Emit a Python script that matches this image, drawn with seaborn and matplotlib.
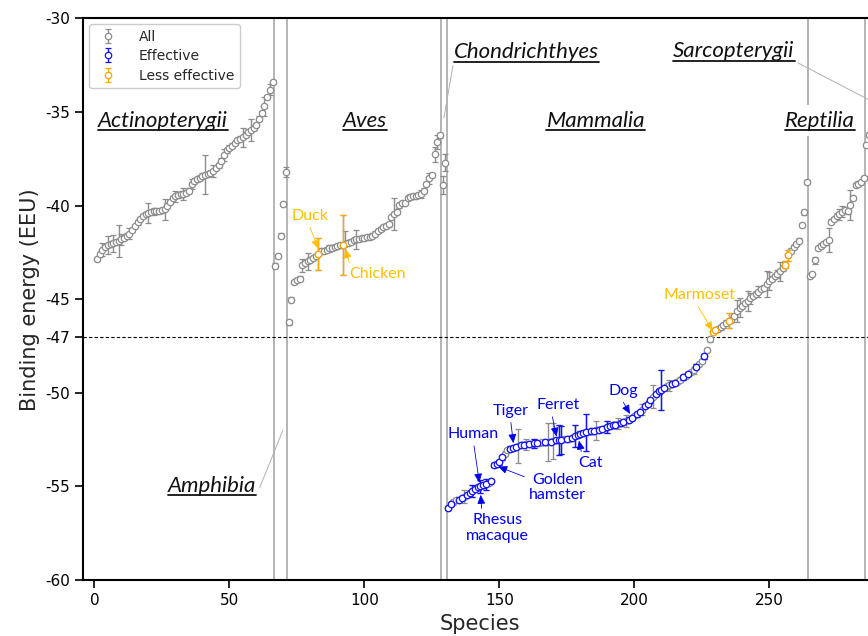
import numpy as np
import pandas as pd
import matplotlib
matplotlib.use("Agg")
import matplotlib.pyplot as plt
from matplotlib.lines import Line2D
from matplotlib.text import Text
import seaborn as sns

# Binding energy per species, sorted within each class
actinopterygii = [-42.85, -42.6, -42.35, -42.2, -42.1, -42.05, -42.0, -41.95, -41.9, -41.8,
                  -41.72, -41.6, -41.5, -41.3, -41.1, -40.9, -40.72, -40.55, -40.45, -40.4,
                  -40.35, -40.3, -40.3, -40.28, -40.25, -40.2, -40.0, -39.8, -39.6, -39.5,
                  -39.45, -39.4, -39.38, -39.3, -39.2, -38.85, -38.7, -38.6, -38.5, -38.4,
                  -38.35, -38.3, -38.25, -38.15, -38.0, -37.85, -37.6, -37.3, -37.05, -36.9,
                  -36.8, -36.65, -36.5, -36.42, -36.35, -36.2, -36.05, -35.95, -35.85, -35.7,
                  -35.35, -35.05, -34.7, -34.2, -33.8, -33.4]
amphibia = [-43.2, -42.7, -41.6, -39.9, -38.2]
aves = [-46.24, -45.02, -44.07, -43.98, -43.9, -43.18, -43.06, -42.97, -42.88, -42.8,
        -42.7, -42.58, -42.44, -42.4, -42.35, -42.28, -42.24, -42.2, -42.15, -42.12,
        -42.12, -42.05, -41.98, -41.92, -41.86, -41.8, -41.77, -41.74, -41.72, -41.7,
        -41.68, -41.6, -41.5, -41.35, -41.25, -41.15, -41.08, -41.0, -40.6, -40.45,
        -40.32, -39.98, -39.88, -39.85, -39.58, -39.52, -39.5, -39.48, -39.44, -39.38,
        -39.2, -38.85, -38.55, -38.35, -37.25, -36.6, -36.24]
chondrichthyes = [-38.9, -37.7]
mammalia = [-56.15, -55.95, -55.85, -55.75, -55.7, -55.62, -55.55, -55.45, -55.35, -55.25,
            -55.15, -55.05, -55.0, -54.95, -54.88, -54.8, -54.72, -53.85, -53.8, -53.72,
            -53.45, -53.25, -53.05, -52.98, -52.94, -52.88, -52.85, -52.8, -52.77, -52.75,
            -52.72, -52.71, -52.7, -52.68, -52.67, -52.65, -52.64, -52.62, -52.6, -52.58,
            -52.54, -52.52, -52.5, -52.49, -52.47, -52.45, -52.41, -52.32, -52.25, -52.18,
            -52.15, -52.11, -52.08, -52.06, -52.03, -52.0, -51.96, -51.92, -51.87, -51.82,
            -51.78, -51.74, -51.7, -51.64, -51.6, -51.55, -51.5, -51.43, -51.35, -51.25,
            -51.15, -51.05, -50.9, -50.7, -50.6, -50.4, -50.2, -50.05, -49.92, -49.85,
            -49.75, -49.65, -49.6, -49.52, -49.47, -49.4, -49.3, -49.18, -49.1, -49.0,
            -48.9, -48.8, -48.6, -48.45, -48.3, -48.05, -47.7, -47.15,
            -46.76, -46.67, -46.6, -46.5, -46.4, -46.25, -46.15, -46.1, -45.9, -45.62,
            -45.45, -45.36, -45.2, -45.09, -44.95, -44.83, -44.7, -44.6, -44.45, -44.38,
            -44.2, -44.03, -43.9, -43.77, -43.65, -43.5, -43.35, -43.15, -42.65, -42.4,
            -42.22, -42.05, -41.87, -41.03, -40.36, -38.73]
reptilia = [-43.76, -43.64, -42.93, -42.27, -42.13, -42.06, -41.96, -41.84, -40.85, -40.71,
            -40.53, -40.46, -40.32, -40.23, -40.3, -39.97, -39.58, -38.91, -38.82, -38.73,
            -38.52]
sarcopterygii = [-36.76, -36.2]

class_names = ["Actinopterygii", "Amphibia", "Aves", "Chondrichthyes",
               "Mammalia", "Reptilia", "Sarcopterygii"]
class_values = [actinopterygii, amphibia, aves, chondrichthyes,
                mammalia, reptilia, sarcopterygii]

# error bar half widths (species index -> EEU), the rest are small
default_err = 0.12
large_err = {3: 0.35, 5: 0.5, 7: 0.45, 9: 0.85, 10: 0.3, 13: 0.3, 20: 0.55, 22: 0.2,
             26: 0.55, 30: 0.3, 33: 0.3, 36: 0.25, 41: 1.05, 44: 0.3, 48: 0.3, 55: 0.5,
             58: 0.6, 63: 0.5, 65: 0.3, 71: 0.25,
             77: 0.35, 79: 0.45, 83: 0.85, 87: 0.2, 92: 1.6, 93: 0.7, 97: 0.5, 111: 0.85,
             121: 0.2, 124: 0.3, 126: 0.4, 127: 0.35, 129: 0.5, 130: 0.45,
             137: 0.35, 140: 0.3, 143: 0.35, 145: 0.3, 157: 0.9, 160: 0.3, 163: 0.25,
             168: 1.0, 170: 0.95, 172: 0.8, 173: 0.75, 178: 0.6, 182: 1.0, 186: 0.5,
             190: 0.3, 194: 0.3, 197: 0.3, 203: 0.3, 207: 0.6, 210: 1.05, 213: 0.3,
             222: 0.2, 235: 0.4, 238: 0.6, 239: 0.5, 242: 0.55, 243: 0.3, 246: 0.3,
             249: 0.7, 250: 0.5, 253: 0.2, 254: 0.5, 256: 0.2, 257: 0.3,
             267: 0.2, 272: 0.65, 276: 0.3, 277: 0.3, 280: 0.8}

# mammals below the threshold that are not marked as effective
mammal_plain = [133, 134, 137, 146, 152, 153, 157, 160, 162, 165, 166, 168, 170, 174,
                176, 183, 186, 189, 194, 197, 200, 203, 207, 212, 213, 216, 217, 219,
                221, 222, 224, 225, 227, 228]
less_effective = [83, 92, 229, 230, 235, 256, 257]

# build table
rows = []
idx = 1
for name, vals in zip(class_names, class_values):
    for v in vals:
        rows.append((idx, name, v, large_err.get(idx, default_err)))
        idx += 1
df = pd.DataFrame(rows, columns=["species", "cls", "energy", "err"])
df["status"] = "All"
df.loc[(df.cls == "Mammalia") & (df.energy < -47) & ~df.species.isin(mammal_plain), "status"] = "Effective"
df.loc[df.species.isin(less_effective), "status"] = "Less effective"

sizes = df.groupby("cls", sort=False).size().values
edges = np.cumsum(sizes)[:-1] + 0.5

sns.set_style("ticks")
plt.rcParams["font.family"] = ["DejaVu Sans"]
plt.rcParams["axes.unicode_minus"] = False

fig = plt.figure(figsize=(8.68, 6.36), dpi=100)
ax = fig.add_axes([0.096, 0.088, 0.9147, 0.883])

grey = "#8c8c8c"
blue = "#1414ff"
orange = "#ffa500"
style = dict(fmt="o", ms=4.6, mew=0.9, mfc="white", capsize=2, elinewidth=1, capthick=1)

ax.errorbar(df.species, df.energy, yerr=df.err, color=grey, ecolor=grey,
            label="All", zorder=3, **style)
eff = df[df.status == "Effective"]
ax.errorbar(eff.species, eff.energy, yerr=eff.err, color=blue, ecolor=blue,
            label="Effective", zorder=4, **style)
less = df[df.status == "Less effective"]
ax.errorbar(less.species, less.energy, yerr=less.err, color=orange, ecolor=orange,
            label="Less effective", zorder=5, **style)

for e in edges:
    ax.axvline(e, color="#a8a8a8", lw=1.2, zorder=1)
ax.axhline(-47, color="black", ls=(0, (3, 2)), lw=0.8, zorder=2)

ax.set_xlim(-4.07, 290)
ax.set_ylim(-60, -30)
ax.set_xticks([0, 50, 100, 150, 200, 250])
ax.set_yticks([-60, -55, -50, -47, -45, -40, -35, -30])
ax.tick_params(direction="out", length=6, width=1.2, labelsize=11, colors="black")
for s in ax.spines.values():
    s.set_linewidth(1.5)
    s.set_color("black")
ax.set_xlabel("Species", fontsize=15)
ax.set_ylabel("Binding energy (EEU)", fontsize=15)

ax.legend(loc="upper left", fontsize=10, borderaxespad=0.4, handletextpad=1.2,
          labelspacing=0.4, framealpha=1)

# class labels
lab = dict(fontfamily="Lato", fontstyle="italic", fontsize=16, ha="center",
           va="baseline", color="#111111", zorder=6)
line = dict(arrowstyle="-", color="#b0b0b0", lw=0.7, shrinkA=0, shrinkB=0)
texts = []
texts.append(ax.text(25.4, -35.78, "Actinopterygii", **lab))
texts.append(ax.text(100.3, -35.78, "Aves", **lab))
texts.append(ax.text(185.7, -35.78, "Mammalia", **lab))
texts.append(ax.text(268.9, -35.78, "Reptilia",
                     bbox=dict(fc="white", ec="none", pad=4), **lab))
texts.append(ax.annotate("Chondrichthyes", xy=(129.5, -35.3), xytext=(159.9, -32.13),
                         arrowprops=dict(relpos=(0, 0), **line), **lab))
texts.append(ax.annotate("Sarcopterygii", xy=(292, -34.73), xytext=(236.9, -32.07),
                         annotation_clip=False,
                         arrowprops=dict(relpos=(1, 0), **line), **lab))
texts.append(ax.annotate("Amphibia", xy=(69.9, -51.98), xytext=(43.7, -55.28),
                         arrowprops=dict(relpos=(1, 0), **line), **lab))

# species annotations
gold = "#ffc000"
tblue = "#0000ee"
notes = [("Duck", (83.0, -42.31), (79.9, -40.76), gold, (0.45, 0)),
         ("Chicken", (93.0, -42.31), (105.0, -43.88), gold, (0.02, 0.95)),
         ("Marmoset", (229.0, -46.68), (224.0, -45.0), gold, (0.45, 0)),
         ("Human", (142.6, -54.8), (140.4, -52.43), tblue, (0.5, 0)),
         ("Rhesus\nmacaque", (143.1, -55.45), (149.4, -56.43), tblue, (0.25, 1)),
         ("Golden\nhamster", (149.6, -53.94), (171.5, -54.26), tblue, (0.0, 0.8)),
         ("Tiger", (155.2, -52.69), (154.1, -51.18), tblue, (0.5, 0)),
         ("Ferret", (171.2, -52.34), (171.7, -50.88), tblue, (0.35, 0)),
         ("Cat", (179.5, -52.55), (183.9, -54.0), tblue, (0.15, 1)),
         ("Dog", (198.4, -51.13), (196.1, -50.11), tblue, (0.4, 0))]
for txt, tip, pos, col, rp in notes:
    va = "top" if "\n" in txt or txt == "Cat" else "baseline"
    y = pos[1]
    if txt == "Cat":
        y = pos[1] + 0.62
    ax.annotate(txt, xy=tip, xytext=(pos[0], y), color=col, fontfamily="Lato",
                fontsize=11.5, ha="center", va=va, linespacing=1.15, zorder=7,
                arrowprops=dict(arrowstyle="-|>,head_length=0.45,head_width=0.2",
                                mutation_scale=12, color=col, lw=0.6, relpos=rp,
                                shrinkA=1, shrinkB=0))

# underline class labels (text extent only, not the connector line)
fig.canvas.draw()
renderer = fig.canvas.get_renderer()
inv = fig.transFigure.inverted()
for t in texts:
    bb = Text.get_window_extent(t, renderer)
    (x0, y0), (x1, _) = inv.transform([(bb.x0, bb.y0 + 0.5), (bb.x1, bb.y0 + 0.5)])
    fig.add_artist(Line2D([x0, x1], [y0, y0], color="#111111", lw=1.3,
                          transform=fig.transFigure, zorder=8))

fig.savefig("out.png", dpi=100)
